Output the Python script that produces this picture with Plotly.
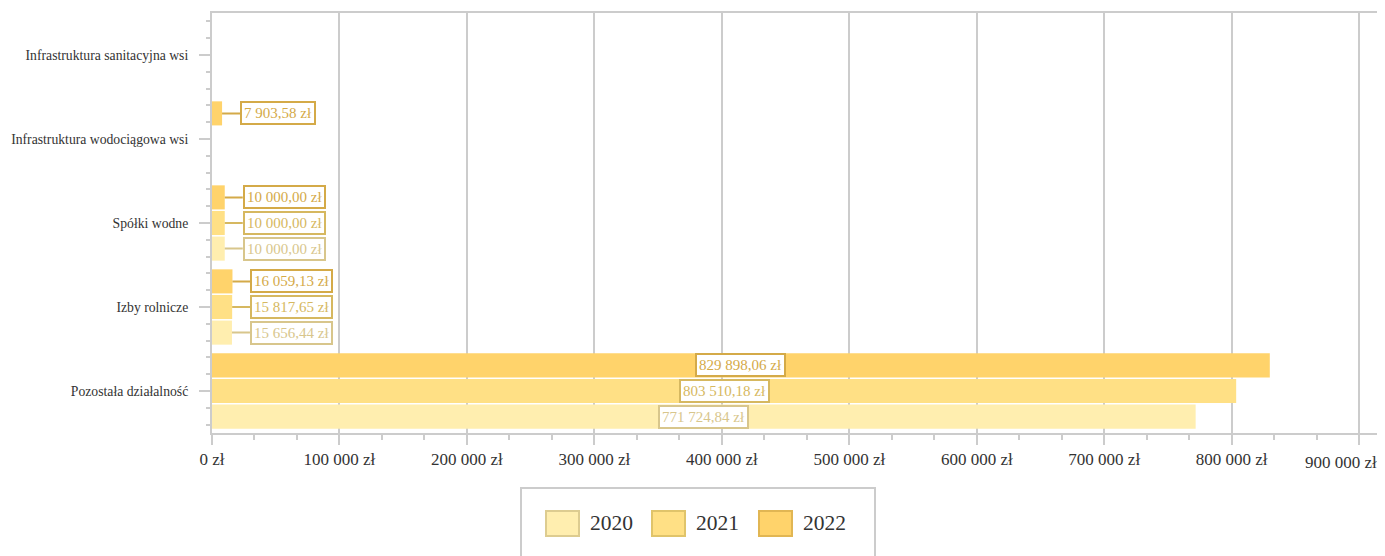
import plotly.graph_objects as go

categories = ["Pozostała działalność", "Izby rolnicze", "Spółki wodne",
              "Infrastruktura wodociągowa wsi", "Infrastruktura sanitacyjna wsi"]
years = ["2020", "2021", "2022"]
values_2020 = [771724.84, 15656.44, 10000.00, None, None]
values_2021 = [803510.18, 15817.65, 10000.00, None, None]
values_2022 = [829898.06, 16059.13, 10000.00, 7903.58, None]
series = [values_2020, values_2021, values_2022]

x_tick_vals = [0, 100000, 200000, 300000, 400000, 500000, 600000, 700000, 800000, 900000]
x_tick_text = ["0 zł", "100 000 zł", "200 000 zł", "300 000 zł", "400 000 zł",
               "500 000 zł", "600 000 zł", "700 000 zł", "800 000 zł", "900 000 zł"]

fills = ["#FFEEAF", "#FFE085", "#FFD36B"]
borders = ["#DDCC90", "#E0C46A", "#E1B653"]
label_colors = ["#D8C68C", "#D6B860", "#D4AA48"]
FONT = "Liberation Serif"

# page geometry (the page body has an 8px margin)
PX0, PY0, PW, PH = 212, 433, 1165, 420

def px(x):
    return (x - PX0) / PW

def py(y):
    return (PY0 - y) / PH

def fmt(v):
    s = f"{v:,.2f}"
    intpart, dec = s.split(".")
    return intpart.replace(",", " ") + "," + dec + " zł"

ypos = list(range(len(categories)))
fig = go.Figure()
for i, (yr, vals) in enumerate(zip(years, series)):
    fig.add_trace(go.Bar(
        y=ypos, x=[v if v is not None else 0 for v in vals], orientation="h", name=yr,
        marker=dict(color=fills[i], line=dict(width=0)), showlegend=False,
        offsetgroup=str(i)))

fig.update_layout(barmode="group", bargap=0.085, bargroupgap=0.06)

# data labels
ngroups = 3
bandw = 1 - 0.085
barw = bandw / ngroups
annotations = []
for i, vals in enumerate(series):
    for j, v in enumerate(vals):
        if v is None:
            continue
        yc = j - bandw / 2 + barw * (i + 0.5)
        common = dict(y=yc, yref="y", xref="x", text=fmt(v),
                      font=dict(family=FONT, size=15, color=label_colors[i]),
                      bgcolor="white", bordercolor=label_colors[i], borderwidth=2, borderpad=2)
        if v > 200000:
            annotations.append(dict(x=v / 2, showarrow=False, xanchor="center", **common))
        else:
            annotations.append(dict(x=v, showarrow=True, ax=18, ay=0, xanchor="left",
                                    arrowhead=0, arrowwidth=2, arrowcolor=label_colors[i],
                                    standoff=0, startstandoff=0, **common))

# last x tick label is pulled inside the page, as in the reference
tick_show = x_tick_text[:-1] + [""]
annotations.append(dict(xref="paper", yref="paper", x=px(1379), y=py(462),
                        xanchor="right", yanchor="middle", showarrow=False,
                        text=x_tick_text[-1], font=dict(family=FONT, size=17, color="#333333")))

# custom legend
legend_shapes = [dict(type="rect", xref="paper", yref="paper",
                      x0=px(521), x1=px(875), y0=py(570), y1=py(488),
                      line=dict(color="#CCCCCC", width=2), fillcolor="white", layer="above")]
sw_x = [545, 651, 758]
for i, yr in enumerate(years):
    legend_shapes.append(dict(type="rect", xref="paper", yref="paper",
                              x0=px(sw_x[i] + 1), x1=px(sw_x[i] + 34),
                              y0=py(536), y1=py(511),
                              line=dict(color=borders[i], width=2), fillcolor=fills[i], layer="above"))
    annotations.append(dict(xref="paper", yref="paper", x=px(sw_x[i] + 43),
                            y=py(523), xanchor="left", yanchor="middle", showarrow=False,
                            text=yr, font=dict(family=FONT, size=21.5, color="#333333")))

fig.update_layout(
    width=1377, height=548,
    margin=dict(l=204, r=8, t=5, b=123, autoexpand=False),
    paper_bgcolor="white", plot_bgcolor="white",
    font=dict(family=FONT, color="#333333"),
    annotations=annotations, shapes=legend_shapes,
    xaxis=dict(range=[0, 914000], tickvals=x_tick_vals, ticktext=tick_show,
               tickfont=dict(size=17, family=FONT, color="#333333"),
               automargin=False, ticklabeloverflow="allow",
               showgrid=True, gridcolor="#CCCCCC", gridwidth=2,
               showline=True, linecolor="#CCCCCC", linewidth=2, mirror=True,
               ticks="outside", ticklen=10, tickwidth=2, tickcolor="#CCCCCC",
               minor=dict(dtick=100000 / 3, tick0=0, ticks="outside", ticklen=5,
                          tickwidth=2, tickcolor="#CCCCCC", showgrid=False),
               zeroline=False, fixedrange=True),
    yaxis=dict(range=[-0.5, 4.5], tickvals=ypos, ticktext=categories,
               tickfont=dict(size=13.7, family=FONT, color="#333333"),
               automargin=False, ticklabelstandoff=8,
               showgrid=False, showline=True, linecolor="#CCCCCC", linewidth=2, mirror=True,
               ticks="outside", ticklen=11, tickwidth=2, tickcolor="#CCCCCC",
               minor=dict(dtick=0.2, tick0=0, ticks="outside", ticklen=4,
                          tickwidth=2, tickcolor="#CCCCCC", showgrid=False),
               zeroline=False, fixedrange=True),
)

fig.write_html("out.html")
